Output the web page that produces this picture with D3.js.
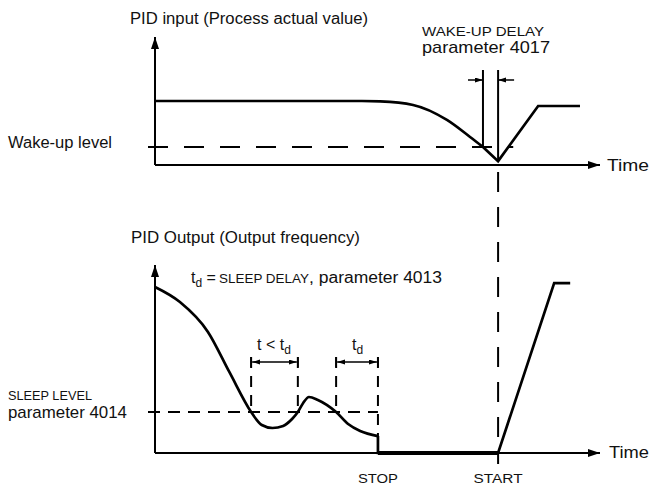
<!DOCTYPE html>
<html>
<head>
<meta charset="utf-8">
<script src="https://cdn.jsdelivr.net/npm/d3@7"></script>
<style>
  body { margin: 0; background: #fff; }
  text { font-family: "Liberation Sans", Arial, Helvetica, sans-serif; fill: #111; }
</style>
</head>
<body>
<div id="chart"></div>
<script>
// set the dimensions of the drawing
var width = 660
    height = 490

// shared time axis (arbitrary units 0..100)
// PID input: smooth fall, then straight V and recovery
var inputCurveT = [0, 46.5, 50.6, 58.0, 65.6, 70.8, 73.7]
var inputCurveV = [5.0, 5.0, 4.97, 4.69, 3.52, 2.19, 1.41]
var inputLineT = [73.7, 77.1, 86.1, 95.5]
var inputLineV = [1.41, 0.3, 4.61, 4.61]
var wakeLevel = 1.41
var wakeMarks = [73.7, 77.1]

// PID output: falling curve with a dip and a bump, stop, then restart ramp
var outputCurveT = [0, 5.6, 11.9, 16.7, 21.6, 22.7, 24.0, 26.4, 28.8, 30.8, 32.1, 33.3, 34.6, 36.6, 40.7, 43.4, 46.1, 50.1]
var outputCurveV = [8.83, 8.03, 6.44, 4.31, 2.18, 1.81, 1.49, 1.33, 1.44, 1.81, 2.18, 2.66, 2.98, 2.82, 2.18, 1.54, 1.17, 0.90]
var outputLineT = [50.1, 50.1, 77.1, 89.7, 93.3]
var outputLineV = [0.90, 0, 0, 9.04, 9.04]
var sleepLevel = 2.18
var sleepMarks = [21.6, 32.1, 40.7, 50.1]
var stopT = 50.1
var startT = 77.1

var svg = d3.select("#chart")
    .append("svg")
        .attr("width", width)
        .attr("height", height)

// arrow heads
var defs = svg.append("defs")
defs.append("marker")
    .attr("id", "bigArrow")
    .attr("markerUnits", "userSpaceOnUse")
    .attr("markerWidth", 14).attr("markerHeight", 10)
    .attr("refX", 12).attr("refY", 4)
    .attr("orient", "auto")
  .append("path")
    .attr("d", "M0,0L12,4L0,8Z")
    .attr("fill", "#000")
defs.append("marker")
    .attr("id", "smallArrow")
    .attr("markerUnits", "userSpaceOnUse")
    .attr("markerWidth", 9).attr("markerHeight", 6)
    .attr("refX", 8).attr("refY", 2.5)
    .attr("orient", "auto-start-reverse")
  .append("path")
    .attr("d", "M0,0L8,2.5L0,5Z")
    .attr("fill", "#000")

var x = d3.scaleLinear().domain([0, 100]).range([155, 600])
var yTop = d3.scaleLinear().domain([0, 10]).range([165, 37])
var yBot = d3.scaleLinear().domain([0, 10]).range([453, 265])

function zip(t, v) { return t.map(function(d, i) { return [d, v[i]] }) }

function drawPanel(y, curveT, curveV, lineT, lineV) {
    // axes with arrows
    svg.append("line")
        .attr("x1", x(0)).attr("y1", y(0)).attr("x2", x(100)).attr("y2", y(0))
        .attr("stroke", "#000").attr("stroke-width", 2)
        .attr("marker-end", "url(#bigArrow)")
    svg.append("line")
        .attr("x1", x(0)).attr("y1", y(0)).attr("x2", x(0)).attr("y2", y(10))
        .attr("stroke", "#000").attr("stroke-width", 2)
        .attr("marker-end", "url(#bigArrow)")

    var smooth = d3.line()
        .x(function(d) { return x(d[0]) })
        .y(function(d) { return y(d[1]) })
        .curve(d3.curveMonotoneX)
    var straight = d3.line()
        .x(function(d) { return x(d[0]) })
        .y(function(d) { return y(d[1]) })

    svg.append("path")
        .attr("d", smooth(zip(curveT, curveV)))
        .attr("fill", "none").attr("stroke", "#000").attr("stroke-width", 2.7)
    svg.append("path")
        .attr("d", straight(zip(lineT, lineV)))
        .attr("fill", "none").attr("stroke", "#000").attr("stroke-width", 2.7)
        .attr("stroke-linejoin", "miter")
}

drawPanel(yTop, inputCurveT, inputCurveV, inputLineT, inputLineV)
drawPanel(yBot, outputCurveT, outputCurveV, outputLineT, outputLineV)

// thick stopped segment along the bottom axis
svg.append("line")
    .attr("x1", x(stopT)).attr("x2", x(startT))
    .attr("y1", yBot(0)).attr("y2", yBot(0))
    .attr("stroke", "#000").attr("stroke-width", 4)

// wake-up level (dashed)
svg.append("line")
    .attr("x1", x(0) - 7).attr("x2", x(80.5))
    .attr("y1", yTop(wakeLevel)).attr("y2", yTop(wakeLevel))
    .attr("stroke", "#000").attr("stroke-width", 2)
    .attr("stroke-dasharray", "20,16")

// wake-up delay verticals and arrows
var wakeBottom = [wakeLevel, inputLineV[1]]
svg.selectAll(".wakeMark")
    .data(wakeMarks)
    .enter()
    .append("line")
        .attr("x1", function(d) { return x(d) }).attr("x2", function(d) { return x(d) })
        .attr("y1", 70)
        .attr("y2", function(d, i) { return yTop(wakeBottom[i]) })
        .attr("stroke", "#000").attr("stroke-width", 2)
svg.append("line")
    .attr("x1", x(wakeMarks[0]) - 15).attr("x2", x(wakeMarks[0]))
    .attr("y1", 80).attr("y2", 80)
    .attr("stroke", "#000").attr("stroke-width", 1.5)
    .attr("marker-end", "url(#smallArrow)")
svg.append("line")
    .attr("x1", x(wakeMarks[1]) + 16).attr("x2", x(wakeMarks[1]))
    .attr("y1", 80).attr("y2", 80)
    .attr("stroke", "#000").attr("stroke-width", 1.5)
    .attr("marker-end", "url(#smallArrow)")

// start vertical dashed line crossing both panels
svg.append("line")
    .attr("x1", x(startT)).attr("x2", x(startT))
    .attr("y1", 172).attr("y2", 464)
    .attr("stroke", "#000").attr("stroke-width", 2)
    .attr("stroke-dasharray", "20,15")

// sleep level (dashed)
svg.append("line")
    .attr("x1", x(0) - 7).attr("x2", x(stopT))
    .attr("y1", yBot(sleepLevel)).attr("y2", yBot(sleepLevel))
    .attr("stroke", "#000").attr("stroke-width", 2)
    .attr("stroke-dasharray", "12,8")

// sleep delay dashed verticals
var sleepBottom = [sleepLevel, sleepLevel, sleepLevel, outputCurveV[outputCurveV.length - 1]]
svg.selectAll(".sleepMark")
    .data(sleepMarks)
    .enter()
    .append("line")
        .attr("x1", function(d) { return x(d) }).attr("x2", function(d) { return x(d) })
        .attr("y1", 357)
        .attr("y2", function(d, i) { return yBot(sleepBottom[i]) })
        .attr("stroke", "#000").attr("stroke-width", 2)
        .attr("stroke-dasharray", "11,8")
// end ticks and double arrows
sleepMarks.forEach(function(d) {
    svg.append("line")
        .attr("x1", x(d)).attr("x2", x(d)).attr("y1", 357).attr("y2", 367)
        .attr("stroke", "#000").attr("stroke-width", 1.5)
})
;[[0, 1], [2, 3]].forEach(function(p) {
    svg.append("line")
        .attr("x1", x(sleepMarks[p[0]]) + 1).attr("x2", x(sleepMarks[p[1]]) - 1)
        .attr("y1", 362).attr("y2", 362)
        .attr("stroke", "#000").attr("stroke-width", 1.5)
        .attr("marker-start", "url(#smallArrow)")
        .attr("marker-end", "url(#smallArrow)")
})

// texts
function label(xp, yp, str, size, len, anchor) {
    var t = svg.append("text")
        .attr("x", xp).attr("y", yp)
        .attr("font-size", size)
        .attr("text-anchor", anchor || "start")
        .text(str)
    if (len) t.attr("textLength", len).attr("lengthAdjust", "spacingAndGlyphs")
    return t
}
label(130, 24, "PID input (Process actual value)", 16, 238)
label(422, 36, "WAKE-UP DELAY", 13, 122)
label(422, 53, "parameter 4017", 17, 128)
label(8, 148, "Wake-up level", 16, 104)
label(607, 171, "Time", 16, 42)
label(131, 243, "PID Output (Output frequency)", 16, 229)

var td = svg.append("text").attr("x", 191).attr("y", 283).attr("font-size", 16)
td.append("tspan").text("t")
td.append("tspan").attr("font-size", 12).attr("dy", 4).text("d")
td.append("tspan").attr("dy", -4).text(" =")
td.append("tspan").attr("x", 219).attr("font-size", 12.5)
    .attr("textLength", 90).attr("lengthAdjust", "spacingAndGlyphs").text("SLEEP DELAY")
td.append("tspan").attr("x", 309)
    .attr("textLength", 133).attr("lengthAdjust", "spacingAndGlyphs").text(", parameter 4013")

var tl = svg.append("text").attr("x", 257).attr("y", 350).attr("font-size", 16)
tl.append("tspan").text("t < t")
tl.append("tspan").attr("font-size", 12).attr("dy", 4).text("d")
var tr = svg.append("text").attr("x", 352).attr("y", 350).attr("font-size", 16)
tr.append("tspan").text("t")
tr.append("tspan").attr("font-size", 12).attr("dy", 4).text("d")

label(8, 400, "SLEEP LEVEL", 12.5, 84)
label(8, 418, "parameter 4014", 17, 119)
label(609, 458, "Time", 16, 40)
label(x(stopT), 483, "STOP", 12, 40, "middle")
label(x(startT), 483, "START", 12, 49, "middle")
</script>
</body>
</html>
